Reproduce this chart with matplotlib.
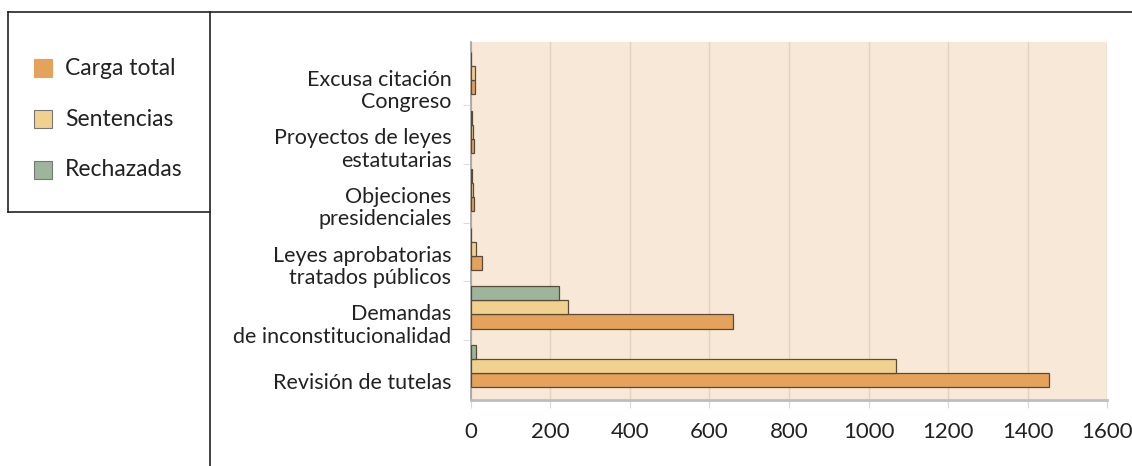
import matplotlib.pyplot as plt
from matplotlib.lines import Line2D
from matplotlib.patches import Rectangle

# categories bottom to top
categorias = ["Revisión de tutelas",
              "Demandas\nde inconstitucionalidad",
              "Leyes aprobatorias\ntratados públicos",
              "Objeciones\npresidenciales",
              "Proyectos de leyes\nestatutarias",
              "Excusa citación\nCongreso"]
carga_total = [1455, 658, 29, 7, 8, 11]
sentencias = [1068, 244, 13, 6, 6, 11]
rechazadas = [12, 221, 0, 2, 2, 0]
xticks = [0, 200, 400, 600, 800, 1000, 1200, 1400, 1600]

c_carga = "#e4a25b"
c_sent = "#f1d190"
c_rech = "#9cb59b"
bg = "#f7e8d7"
edge = "#5b4a3a"

plt.rcParams['font.family'] = ['Lato', 'DejaVu Sans']

fig = plt.figure(figsize=(11.32, 4.66), dpi=100)
ax = fig.add_axes([0.416, 0.1416, 0.562, 0.768])
ax.set_facecolor(bg)

y = list(range(len(categorias)))
h = 0.24
ax.barh([v - 0.24 for v in y], carga_total, height=h, color=c_carga, edgecolor=edge, linewidth=0.9, zorder=3)
ax.barh(y, sentencias, height=h, color=c_sent, edgecolor=edge, linewidth=0.9, zorder=3)
ax.barh([v + 0.24 for v in y], rechazadas, height=h, color=c_rech, edgecolor=edge, linewidth=0.9, zorder=3)

ax.set_xlim(0, 1600)
ax.set_ylim(-0.58, 5.53)
ax.set_xticks(xticks)
ax.set_xticklabels([str(t) for t in xticks], fontsize=16, color="#222222")
ax.grid(axis='x', color="#e2d2c0", linewidth=1, zorder=0)
ax.tick_params(axis='x', length=6, color="#d8d8d8", pad=10)

ax.set_yticks([v - 0.25 for v in y])
ax.set_yticklabels(categorias, fontsize=15.5, color="#222222", linespacing=1.15)
ax.tick_params(axis='y', length=0, pad=14)
ax.set_yticks([v + 0.45 for v in y[:-1]], minor=True)
ax.tick_params(axis='y', which='minor', length=6, color="#d8d8d8")

for s in ['top', 'right']:
    ax.spines[s].set_visible(False)
ax.spines['left'].set_color("#a0a0a0")
ax.spines['left'].set_linewidth(1.2)
ax.spines['bottom'].set_color("#b9bec4")
ax.spines['bottom'].set_linewidth(2)

# frame lines
W, H = 1132, 466
def fl(x0, y0, x1, y1):
    fig.add_artist(Line2D([x0 / W, x1 / W], [1 - y0 / H, 1 - y1 / H], color="#222222", linewidth=1.2))
fl(8, 12, W, 12)
fl(210, 12, 210, H)
fl(8, 12, 8, 212)
fl(8, 212, 210, 212)

# legend
for i, (lab, col) in enumerate([("Carga total", c_carga), ("Sentencias", c_sent), ("Rechazadas", c_rech)]):
    yc = 68 + i * 51
    fig.add_artist(Rectangle((34 / W, 1 - (yc + 9) / H), 18 / W, 18 / H, facecolor=col,
                             edgecolor="#777777" if i else col, linewidth=0.8))
    fig.text(65 / W, 1 - yc / H, lab, fontsize=16.5, va='center', ha='left', color="#222222")

fig.savefig("out.png", dpi=100)
